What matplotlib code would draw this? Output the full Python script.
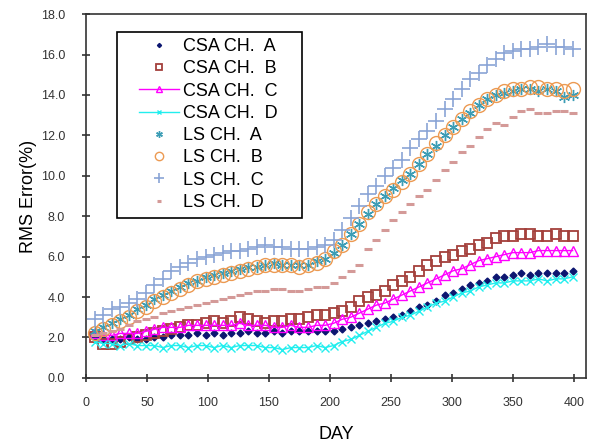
import numpy as np
from matplotlib import pyplot as plt
from matplotlib.patches import Rectangle

plt.rcParams['font.family'] = ['Liberation Sans', 'DejaVu Sans']

# sampling days (one point per week)
day = [7, 14, 21, 28, 35, 42, 49, 56, 63, 70, 77, 84, 91, 98, 105, 112, 119, 126, 133,
       140, 147, 154, 161, 168, 175, 182, 189, 196, 203, 210, 217, 224, 231, 238, 245,
       252, 259, 266, 273, 280, 287, 294, 301, 308, 315, 322, 329, 336, 343, 350, 357,
       364, 371, 378, 385, 392, 399]

csa_a = [2.0, 1.9, 1.9, 1.9, 2.0, 1.9, 1.9,
         2.0, 2.0, 2.1, 2.1, 2.1, 2.2, 2.1,
         2.2, 2.1, 2.2, 2.2, 2.3, 2.2, 2.2,
         2.3, 2.2, 2.3, 2.3, 2.3, 2.3, 2.3,
         2.3, 2.4, 2.5, 2.6, 2.7, 2.8, 2.9,
         3.0, 3.1, 3.3, 3.5, 3.6, 3.8, 4.1,
         4.2, 4.4, 4.6, 4.7, 4.8, 5.0, 5.0,
         5.1, 5.2, 5.1, 5.2, 5.2, 5.2, 5.2, 5.3]
csa_b = [2.0, 1.7, 1.7, 1.8, 1.9, 2.0, 2.1,
         2.2, 2.3, 2.4, 2.5, 2.6, 2.6, 2.7,
         2.8, 2.7, 2.8, 3.0, 2.9, 2.8, 2.7,
         2.8, 2.8, 2.9, 2.9, 3.0, 3.1, 3.1,
         3.2, 3.3, 3.5, 3.8, 4.0, 4.1, 4.3,
         4.6, 4.8, 5.0, 5.3, 5.6, 5.8, 6.0,
         6.1, 6.3, 6.4, 6.6, 6.7, 6.9, 7.0,
         7.0, 7.1, 7.1, 7.0, 7.0, 7.1, 7.0, 7.0]
csa_c = [2.2, 2.1, 2.1, 2.2, 2.2, 2.2, 2.3,
         2.4, 2.5, 2.5, 2.5, 2.6, 2.6, 2.6,
         2.6, 2.6, 2.6, 2.7, 2.6, 2.6, 2.6,
         2.5, 2.5, 2.6, 2.5, 2.5, 2.6, 2.6,
         2.7, 2.9, 3.0, 3.2, 3.4, 3.6, 3.7,
         3.9, 4.1, 4.3, 4.5, 4.7, 4.9, 5.1,
         5.3, 5.4, 5.6, 5.8, 5.9, 6.0, 6.1,
         6.2, 6.2, 6.2, 6.3, 6.3, 6.3, 6.3, 6.3]
csa_d = [1.8, 1.7, 1.7, 1.6, 1.7, 1.6, 1.6,
         1.6, 1.5, 1.6, 1.6, 1.5, 1.6, 1.6,
         1.5, 1.6, 1.5, 1.6, 1.6, 1.6, 1.5,
         1.5, 1.4, 1.5, 1.5, 1.5, 1.6, 1.5,
         1.6, 1.8, 1.9, 2.1, 2.3, 2.5, 2.7,
         2.8, 3.0, 3.1, 3.3, 3.5, 3.7, 3.8,
         4.0, 4.2, 4.3, 4.5, 4.6, 4.7, 4.7,
         4.8, 4.8, 4.8, 4.9, 4.8, 4.9, 4.9, 5.0]
ls_a = [2.3, 2.5, 2.7, 2.9, 3.1, 3.4, 3.6,
        3.9, 4.1, 4.3, 4.5, 4.7, 4.8, 5.0,
        5.1, 5.2, 5.3, 5.4, 5.5, 5.5, 5.6,
        5.7, 5.6, 5.6, 5.6, 5.6, 5.8, 5.9,
        6.2, 6.6, 7.1, 7.6, 8.1, 8.6, 9.0,
        9.4, 9.8, 10.1, 10.6, 11.1, 11.5, 12.0,
        12.4, 12.8, 13.1, 13.5, 13.8, 14.0, 14.1,
        14.2, 14.3, 14.3, 14.2, 14.3, 14.2, 13.9, 14.0]
ls_b = [2.2, 2.4, 2.6, 2.8, 3.0, 3.3, 3.5,
        3.8, 4.0, 4.2, 4.4, 4.6, 4.8, 4.9,
        5.0, 5.1, 5.2, 5.3, 5.4, 5.5, 5.6,
        5.6, 5.6, 5.6, 5.5, 5.6, 5.7, 5.9,
        6.3, 6.6, 7.1, 7.6, 8.2, 8.6, 9.0,
        9.3, 9.7, 10.1, 10.6, 11.1, 11.6, 12.0,
        12.4, 12.8, 13.2, 13.5, 13.8, 14.0, 14.2,
        14.3, 14.3, 14.4, 14.4, 14.3, 14.3, 14.2, 14.3]
ls_c = [2.9, 3.1, 3.4, 3.5, 3.7, 3.9, 4.2,
        4.6, 4.9, 5.3, 5.5, 5.7, 5.9, 6.0,
        6.1, 6.2, 6.3, 6.3, 6.4, 6.5, 6.6,
        6.5, 6.5, 6.4, 6.4, 6.4, 6.5, 6.6,
        6.8, 7.3, 7.9, 8.5, 9.1, 9.5, 10.0,
        10.4, 10.8, 11.4, 11.8, 12.2, 12.7, 13.3,
        13.8, 14.3, 14.8, 15.1, 15.5, 15.8, 16.1,
        16.2, 16.3, 16.3, 16.4, 16.5, 16.4, 16.4, 16.3]
ls_d = [2.1, 2.2, 2.3, 2.4, 2.6, 2.8, 2.9,
        3.0, 3.2, 3.3, 3.4, 3.5, 3.6, 3.7,
        3.8, 3.9, 4.0, 4.1, 4.2, 4.3, 4.3,
        4.4, 4.4, 4.3, 4.3, 4.4, 4.5, 4.5,
        4.7, 5.0, 5.3, 5.6, 6.4, 6.8, 7.3,
        7.8, 8.2, 8.6, 9.0, 9.3, 9.8, 10.3,
        10.7, 11.2, 11.5, 11.9, 12.3, 12.6, 12.5,
        12.9, 13.2, 13.3, 13.1, 13.1, 13.2, 13.2, 13.1]

fig = plt.figure(figsize=(5.89, 4.43), dpi=100)
ax = fig.add_axes([0.146, 0.147, 0.849, 0.821])

ax.plot(day, csa_a, linestyle='none', marker='D', markersize=3.5,
        color='#0c1670', label='CSA CH.  A')
ax.plot(day, csa_b, linestyle='none', marker='s', markersize=7.5, markerfacecolor='none',
        markeredgewidth=1.3, color='#a4403c', label='CSA CH.  B')
ax.plot(day, csa_c, linestyle='-', linewidth=1.0, marker='^', markersize=6.5,
        markerfacecolor='none', markeredgewidth=1.0, color='#ff00ff', label='CSA CH.  C')
ax.plot(day, csa_d, linestyle='-', linewidth=1.0, marker='x', markersize=6,
        markeredgewidth=1.0, color='#22eeee', label='CSA CH.  D')
ax.plot(day, ls_a, linestyle='none', marker=(6, 2, 0), markersize=8,
        markeredgewidth=1.0, color='#3c9db5', label='LS CH.  A')
ax.plot(day, ls_b, linestyle='none', marker='o', markersize=10, markerfacecolor='none',
        markeredgewidth=1.0, color='#ec9a52', label='LS CH.  B')
ax.plot(day, ls_c, linestyle='none', marker='+', markersize=11,
        markeredgewidth=1.2, color='#8aa4d6', label='LS CH.  C')
ax.plot(day, ls_d, linestyle='none', marker='_', markersize=6,
        markeredgewidth=2.2, color='#d49a98', label='LS CH.  D')

ax.set_xlim(0, 410)
ax.set_ylim(0, 18)
ax.set_xticks(np.arange(0, 401, 50))
ax.set_yticks(np.arange(0, 18.1, 2))
ax.set_yticklabels(['%.1f' % v for v in np.arange(0, 18.1, 2)])
ax.tick_params(direction='inout', length=6, width=1.2, labelsize=9,
               labelcolor='#333333', color='#333333')
ax.tick_params(axis='x', pad=11)
ax.tick_params(axis='y', pad=12)
for s in ax.spines.values():
    s.set_color('#333333')
    s.set_linewidth(1.2)

ax.set_xlabel('DAY', fontsize=13, labelpad=12)
ax.set_ylabel('RMS Error(%)', fontsize=13, labelpad=3)

# legend entries without frame, box drawn separately for wider side margins
leg = ax.legend(loc='upper left', bbox_to_anchor=(0.106, 0.934), fontsize=13,
                frameon=False, borderpad=0, labelspacing=0.29, markerscale=0.6,
                handlelength=2.2, handletextpad=0.25, borderaxespad=0)
ax.add_patch(Rectangle((0.062, 0.4396), 0.37, 0.511, transform=ax.transAxes,
                       facecolor='white', edgecolor='black', linewidth=1.2, zorder=4))
leg.set_zorder(5)

plt.savefig('out.png', dpi=100)
